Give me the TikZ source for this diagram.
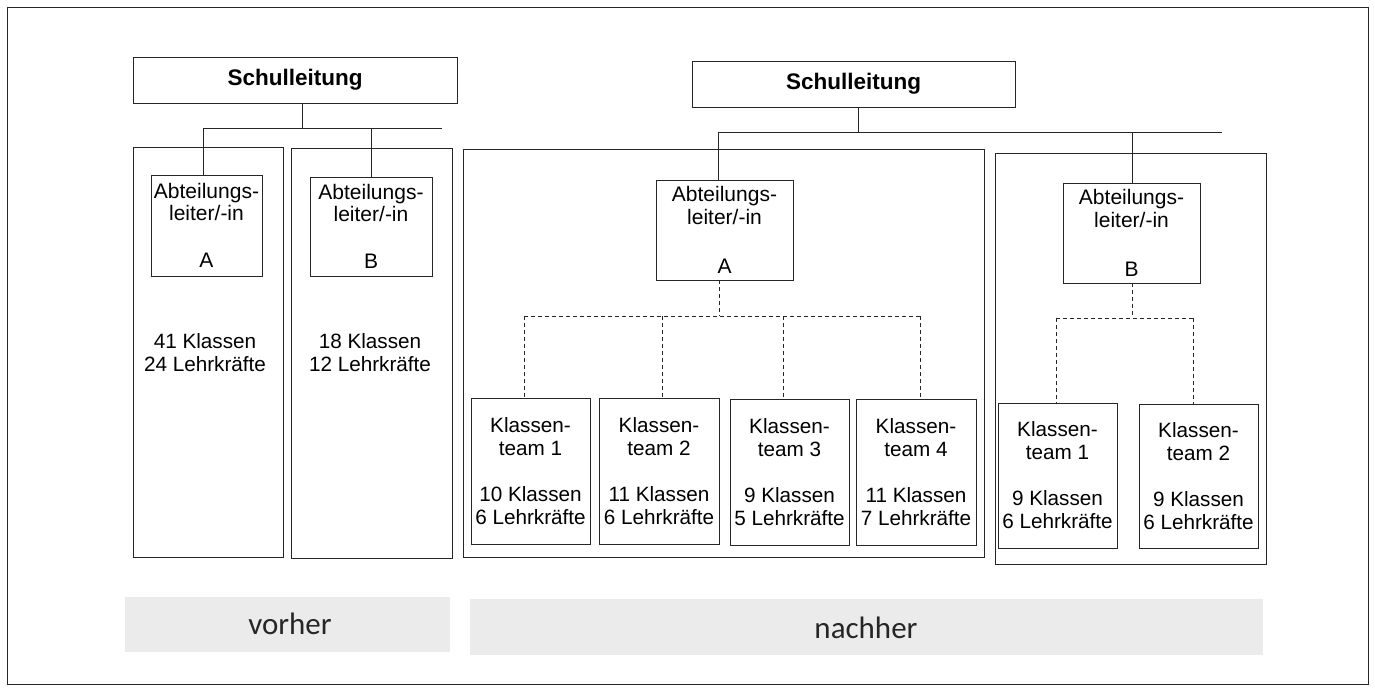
\documentclass[tikz,border=0pt]{standalone}
\usepackage{fontspec}
\setmainfont{Liberation Sans}
\newfontfamily\calib{Carlito}
\begin{document}
\begin{tikzpicture}[x=1pt,y=-1pt,
  line/.style={draw=black!85, line width=0.9pt},
  box/.style 2 args={draw=black!85, line width=0.9pt, minimum width=#1, minimum height=#2, inner sep=0pt, align=center, anchor=center},
  dashline/.style={draw=black!85, line width=0.8pt, dash pattern=on 4pt off 3pt},
  leadtxt/.style={font=\bfseries\fontsize{22.5}{25}\selectfont},
  abtxt/.style={font=\fontsize{21}{22}\selectfont},
  abtxtr/.style={font=\fontsize{21}{23}\selectfont},
  teamtxt/.style={font=\fontsize{20.7}{23}\selectfont, align=center},
  bar/.style={fill=black!8, draw=none, inner sep=0pt, anchor=center},
  bartxt/.style={font=\calib\fontsize{31}{32}\selectfont, text=black!85}
]
\useasboundingbox (0,0) rectangle (1375,692);
% outer frame
\draw[line] (7,7) rectangle (1368,684);

% ---------- vorher ----------
\node[box={324pt}{46pt}, leadtxt] (SL1) at (295,80) {Schulleitung};
\node[box={150pt}{410pt}] (colA) at (208,352) {};
\node[box={161pt}{410pt}] (colB) at (371.5,353) {};
\node[box={111pt}{101pt}, abtxt] (A1) at (206.5,225.5) {Abteilungs-\\leiter/-in\\[25pt]A};
\node[box={122pt}{99pt}, abtxt] (B1) at (371,226.5) {Abteilungs-\\leiter/-in\\[25pt]B};
\node[teamtxt] (statA) at (205,353) {41 Klassen\\24 Lehrkräfte};
\node[teamtxt] (statB) at (370,353) {18 Klassen\\12 Lehrkräfte};

\coordinate (b1L) at (203,128);
\coordinate (b1M) at (302,128);
\coordinate (b1B) at (371,128);
\coordinate (b1R) at (442,128);
\draw[line] (b1L) -- (b1R);
\draw[line] (SL1.south -| b1M) -- (b1M);
\draw[line] (b1L) -- (A1.north -| b1L);
\draw[line] (b1B) -- (B1.north -| b1B);

\node[bar, minimum width=325pt, minimum height=55pt] (barV) at (287.5,624.5) {};
\node[bartxt] (txtV) at (290,624) {vorher};

% ---------- nachher ----------
\node[box={323pt}{46pt}, leadtxt] (SL2) at (853.5,84) {Schulleitung};
\node[box={521pt}{408pt}] (bigA) at (723.5,353) {};
\node[box={271pt}{411pt}] (bigB) at (1130.5,358.5) {};
\node[box={137pt}{100pt}, abtxtr] (A2) at (724.5,230) {Abteilungs-\\leiter/-in\\[26pt]A};
\node[box={137pt}{100pt}, abtxtr] (B2) at (1131.5,233) {Abteilungs-\\leiter/-in\\[26pt]B};

\coordinate (b2L) at (718,132);
\coordinate (b2M) at (858,132);
\coordinate (b2B) at (1132,132);
\coordinate (b2R) at (1222,132);
\draw[line] (b2L) -- (b2R);
\draw[line] (SL2.south -| b2M) -- (b2M);
\draw[line] (b2L) -- (A2.north -| b2L);
\draw[line] (b2B) -- (B2.north -| b2B);

% teams A
\node[box={119pt}{146pt}, teamtxt] (TA1) at (530.5,471) {Klassen-\\team 1\\[23pt]10 Klassen\\6 Lehrkräfte};
\node[box={120pt}{146pt}, teamtxt] (TA2) at (659,471.5) {Klassen-\\team 2\\[23pt]11 Klassen\\6 Lehrkräfte};
\node[box={119pt}{146pt}, teamtxt] (TA3) at (789.5,472) {Klassen-\\team 3\\[23pt]9 Klassen\\5 Lehrkräfte};
\node[box={120pt}{146pt}, teamtxt] (TA4) at (916,472.5) {Klassen-\\team 4\\[23pt]11 Klassen\\7 Lehrkräfte};

\coordinate (dA) at (719,316);
\coordinate (dA1) at (524,316);
\coordinate (dA2) at (662,316);
\coordinate (dA3) at (783,316);
\coordinate (dA4) at (920,316);
\draw[dashline] (A2.south -| dA) -- (dA);
\draw[dashline] (dA1) -- (dA4);
\draw[dashline] (dA1) -- (TA1.north -| dA1);
\draw[dashline] (dA2) -- (TA2.north -| dA2);
\draw[dashline] (dA3) -- (TA3.north -| dA3);
\draw[dashline] (dA4) -- (TA4.north -| dA4);

% teams B
\node[box={119pt}{145pt}, teamtxt] (TB1) at (1057.5,475.5) {Klassen-\\team 1\\[23pt]9 Klassen\\6 Lehrkräfte};
\node[box={119pt}{144pt}, teamtxt] (TB2) at (1198.5,476) {Klassen-\\team 2\\[23pt]9 Klassen\\6 Lehrkräfte};

\coordinate (dB) at (1132,318);
\coordinate (dB1) at (1056,318);
\coordinate (dB2) at (1193,318);
\draw[dashline] (B2.south -| dB) -- (dB);
\draw[dashline] (dB1) -- (dB2);
\draw[dashline] (dB1) -- (TB1.north -| dB1);
\draw[dashline] (dB2) -- (TB2.north -| dB2);

\node[bar, minimum width=793pt, minimum height=56pt] (barN) at (866.5,627) {};
\node[bartxt] (txtN) at (866,628) {nachher};
\end{tikzpicture}
\end{document}
